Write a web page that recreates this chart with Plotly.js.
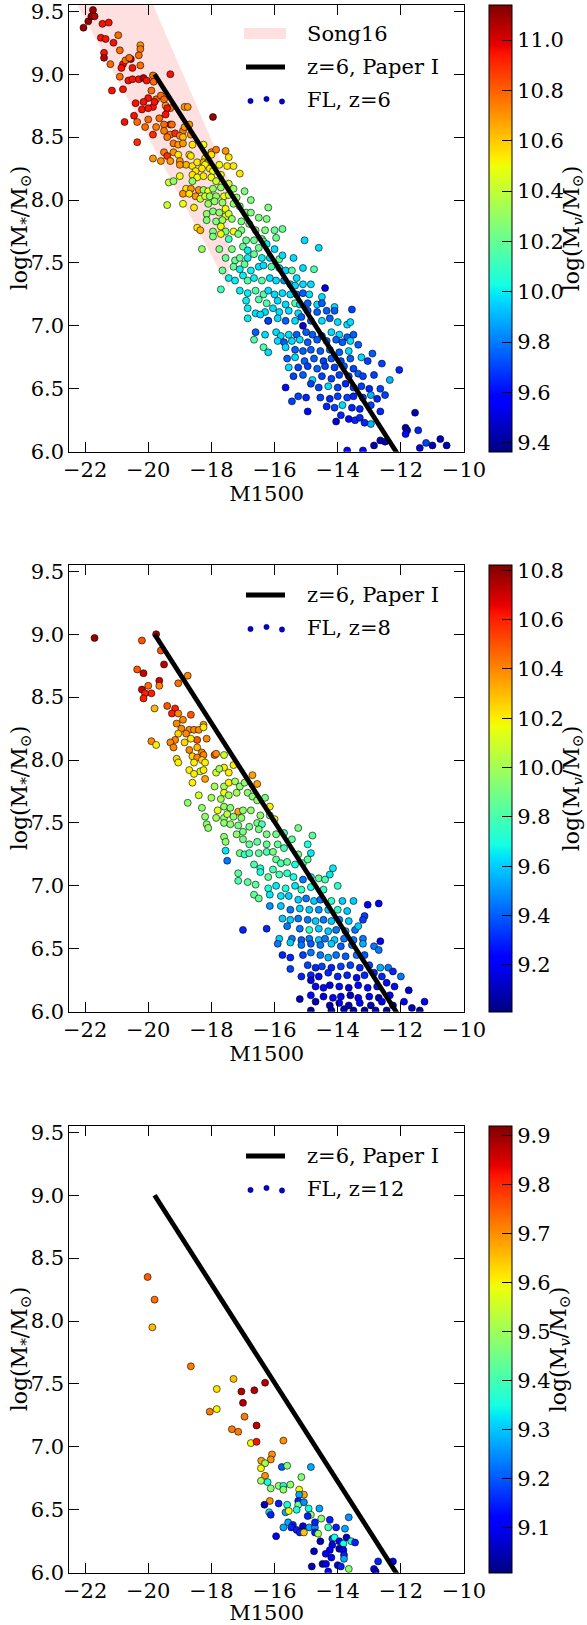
<!DOCTYPE html>
<html><head><meta charset="utf-8">
<script src="https://cdn.plot.ly/plotly-3.0.1.min.js"></script>
<style>html,body{margin:0;padding:0;background:#fff}#chart{width:587px;height:1625px}</style>
</head><body><div id="chart"></div>
<script>
// ---------------- data ----------------
const xTicks = [-22,-20,-18,-16,-14,-12,-10];
const yTicks = [6.0,6.5,7.0,7.5,8.0,8.5,9.0,9.5];
const cb1Ticks = [9.4,9.6,9.8,10.0,10.2,10.4,10.6,10.8,11.0];
const cb2Ticks = [9.2,9.4,9.6,9.8,10.0,10.2,10.4,10.6,10.8];
const cb3Ticks = [9.1,9.2,9.3,9.4,9.5,9.6,9.7,9.8,9.9];
const cRange1 = [9.364, 11.14];
const cRange2 = [9.01, 10.822];
const cRange3 = [9.007, 9.92];

// Paper I relation (z=6)
const paperX = [-19.8, -11.9];
const paperY = [9.0, 5.902];
// Song16 band
const songX = [-23.0, -17.45, -17.45, -23.0];
const songY = [11.38, 8.16, 7.30, 9.91];

// FL, z=6
const p1X = [-22.05,-21.9,-21.8,-21.7,-21.75,-21.5,-21.45,-21.25,-21.35,-21.1,
-21.4,-21.4,-21.2,-20.95,-20.9,-20.8,-20.72,-20.55,-20.6,-20.25,
-20.25,-20.3,-20.25,-20.5,-20.85,-20.9,-20.63,-20.5,-20.3,-20.15,
-20.05,-19.85,-19.83,-19.3,-21.15,-20.8,-19.9,-20.0,-19.75,-19.6,
-19.5,-20.4,-20.15,-19.85,-19.8,-19.45,-19.3,-20.2,-20.0,-19.4,
-20.45,-20.75,-20.35,-20.0,-19.65,-19.45,-19.3,-19.25,-19.5,-18.85,
-18.75,-17.95,-20.1,-19.75,-19.85,-19.5,-19.3,-19.15,-18.9,-18.85,
-18.7,-18.65,-19.0,-19.4,-18.9,-20.35,-19.2,-19.05,-18.9,-18.6,
-18.25,-19.5,-19.4,-19.2,-19.05,-18.7,-18.65,-18.0,-17.85,-17.55,
-18.0,-18.2,-19.85,-19.6,-19.3,-19.0,-18.8,-19.0,-18.6,-18.45,
-18.25,-18.15,-18.2,-18.05,-18.3,-18.5,-17.95,-17.75,-17.5,-17.45,
-17.3,-17.1,-19.0,-18.6,-18.45,-18.25,-18.0,-17.7,-17.85,-19.35,
-19.2,-18.6,-18.8,-18.65,-18.4,-18.25,-18.1,-17.95,-17.7,-17.45,
-17.3,-18.9,-18.7,-18.5,-18.35,-18.2,-18.05,-17.85,-17.6,-17.45,
-17.2,-16.95,-16.75,-19.4,-18.9,-18.55,-18.1,-17.9,-17.65,-17.55,
-17.3,-18.15,-17.95,-17.75,-17.55,-17.45,-17.1,-16.9,-16.75,-16.2,
-18.15,-17.85,-17.65,-17.35,-17.05,-16.8,-16.5,-16.25,-18.45,-18.35,
-17.95,-17.7,-17.55,-17.3,-17.05,-16.6,-16.3,-16.0,-15.75,-17.95,
-17.7,-17.45,-17.15,-16.9,-16.65,-16.4,-15.95,-18.3,-17.75,-17.35,
-17.0,-16.85,-16.5,-16.35,-16.25,-16.0,-15.05,-14.6,-17.55,-17.25,
-17.1,-16.85,-16.65,-16.4,-16.15,-15.85,-15.75,-15.4,-15.1,-14.75,
-17.65,-17.3,-17.1,-16.95,-16.75,-16.5,-16.35,-16.1,-15.85,-15.65,
-15.45,-15.3,-17.7,-17.45,-17.25,-17.0,-16.85,-16.65,-16.4,-16.15,
-15.95,-15.7,-15.5,-15.35,-15.1,-14.85,-14.4,-17.1,-16.85,-16.6,
-16.35,-16.2,-16.0,-15.75,-15.5,-15.3,-15.1,-14.9,-14.5,-16.9,
-16.5,-16.25,-15.9,-15.65,-15.35,-15.2,-14.95,-14.65,-14.5,-14.1,
-16.85,-16.6,-16.3,-16.05,-15.85,-15.55,-15.25,-14.95,-14.65,-14.35,
-14.1,-13.55,-16.85,-16.45,-16.2,-15.9,-15.65,-15.35,-15.15,-14.85,
-14.5,-14.25,-14.0,-13.7,-13.6,-16.2,-15.1,-16.6,-16.3,-15.95,
-15.8,-15.55,-15.3,-15.0,-14.8,-14.5,-14.2,-13.95,-13.7,-13.5,
-16.65,-15.9,-15.7,-15.45,-15.2,-14.95,-14.65,-14.35,-14.05,-13.85,
-13.6,-13.35,-16.35,-16.2,-15.65,-15.35,-15.1,-14.85,-14.55,-14.25,
-13.95,-13.65,-12.9,-15.6,-15.35,-15.05,-14.75,-14.45,-14.2,-13.9,
-13.6,-13.25,-13.05,-15.55,-15.25,-14.95,-14.65,-14.4,-14.1,-13.8,
-13.5,-12.6,-12.05,-15.4,-15.1,-14.8,-14.5,-14.2,-13.95,-13.65,
-13.35,-13.2,-12.85,-12.35,-15.65,-14.85,-14.6,-14.3,-14.0,-13.75,
-13.5,-13.25,-13.0,-12.65,-15.25,-15.0,-14.55,-14.25,-14.0,-13.7,
-13.5,-13.2,-12.95,-12.75,-12.5,-15.45,-14.95,-14.35,-14.1,-13.85,
-13.55,-13.3,-12.95,-12.65,-13.9,-13.65,-13.45,-13.3,-12.95,-14.05,
-13.15,-11.55,-11.85,-11.8,-11.85,-11.45,-12.65,-12.5,-12.85,-11.2,
-11.4,-11.0,-10.75,-10.55,-13.7,-13.2];
const p1Y = [9.37,9.42,9.46,9.46,9.51,9.29,9.40,9.41,9.28,9.25,
9.17,9.13,9.08,9.31,9.19,9.08,9.11,9.12,9.13,9.23,
9.2,9.15,9.07,9.05,9.05,8.98,8.95,8.96,8.96,8.97,
8.95,8.99,8.94,9.0,8.87,8.88,8.87,8.81,8.8,8.83,
8.8,8.77,8.78,8.74,8.78,8.75,8.73,8.72,8.73,8.73,
8.67,8.62,8.62,8.64,8.65,8.68,8.6,8.6,8.6,8.74,
8.74,8.66,8.58,8.58,8.52,8.55,8.52,8.53,8.55,8.58,
8.6,8.52,8.51,8.5,8.5,8.46,8.45,8.44,8.45,8.44,
8.44,8.38,8.35,8.38,8.36,8.36,8.35,8.38,8.4,8.39,
8.36,8.33,8.33,8.31,8.31,8.31,8.28,8.28,8.27,8.3,
8.3,8.29,8.28,8.25,8.25,8.23,8.23,8.28,8.27,8.34,
8.27,8.21,8.19,8.2,8.18,8.19,8.18,8.2,8.15,8.14,
8.15,8.15,8.09,8.09,8.08,8.08,8.07,8.09,8.1,8.13,
8.09,8.05,8.05,8.03,8.01,8.03,8.03,8.03,8.03,8.04,
8.02,8.07,8.0,7.96,7.97,7.94,7.97,7.99,7.98,7.93,
7.97,7.89,7.91,7.9,7.87,7.89,7.95,7.9,7.9,7.94,
7.84,7.83,7.84,7.85,7.83,7.81,7.86,7.85,7.78,7.76,
7.75,7.79,7.75,7.75,7.76,7.76,7.76,7.76,7.77,7.71,
7.73,7.69,7.73,7.68,7.68,7.69,7.7,7.61,7.61,7.61,
7.63,7.6,7.62,7.67,7.65,7.61,7.68,7.62,7.54,7.52,
7.54,7.54,7.57,7.54,7.54,7.53,7.56,7.54,7.46,7.45,
7.44,7.47,7.45,7.49,7.44,7.47,7.48,7.47,7.46,7.44,
7.44,7.38,7.29,7.38,7.36,7.4,7.36,7.38,7.36,7.38,
7.36,7.36,7.33,7.32,7.33,7.33,7.3,7.28,7.26,7.28,
7.25,7.28,7.25,7.26,7.25,7.25,7.26,7.25,7.23,7.2,
7.21,7.18,7.2,7.17,7.18,7.17,7.18,7.17,7.18,7.15,
7.14,7.1,7.11,7.14,7.11,7.12,7.1,7.12,7.11,7.12,
7.12,7.13,7.06,7.09,7.04,7.06,7.04,7.04,7.07,7.04,
7.04,7.06,7.03,7.01,7.03,7.04,7.0,6.95,6.93,6.95,
6.92,6.93,6.93,6.95,6.93,6.92,6.95,6.93,6.91,6.93,
6.89,6.88,6.87,6.88,6.89,6.87,6.89,6.88,6.89,6.87,
6.88,6.85,6.83,6.79,6.83,6.81,6.8,6.81,6.8,6.81,
6.79,6.8,6.78,6.74,6.75,6.72,6.74,6.72,6.74,6.72,
6.74,6.75,6.72,6.67,6.67,6.68,6.66,6.68,6.67,6.68,
6.66,6.7,6.65,6.6,6.61,6.57,6.6,6.58,6.61,6.6,
6.62,6.6,6.61,6.57,6.51,6.54,6.51,6.52,6.51,6.54,
6.51,6.52,6.5,6.5,6.44,6.43,6.43,6.42,6.44,6.43,
6.44,6.43,6.45,6.42,6.45,6.4,6.32,6.36,6.35,6.37,
6.35,6.34,6.37,6.32,6.29,6.26,6.25,6.27,6.22,6.24,
6.23,6.31,6.19,6.17,6.14,6.17,6.09,6.08,6.05,6.07,
6.03,6.05,6.1,6.05,6.01,6.01];
const p1C = [11.1,11.1,11.1,11.05,11.1,10.95,10.95,10.95,10.95,10.95,
10.95,11.05,10.78,10.78,10.78,10.95,10.78,11.05,10.78,10.7,
10.75,10.78,10.78,10.95,10.95,10.78,10.95,10.95,10.95,11.05,
10.95,10.78,10.78,10.95,10.95,10.95,10.78,10.95,10.78,10.78,
10.78,10.95,10.95,10.95,10.95,10.7,10.75,10.95,10.95,10.95,
10.95,10.95,10.78,10.78,10.78,10.95,10.95,10.78,10.78,10.7,
10.7,11.1,10.78,10.75,10.9,10.75,10.75,10.9,10.75,10.7,
10.7,10.7,10.75,10.75,10.62,10.9,10.75,10.7,10.7,10.55,
10.5,10.75,10.9,10.7,10.55,10.55,10.55,10.75,10.75,10.7,
10.55,10.55,10.7,10.7,10.7,10.7,10.65,10.7,10.55,10.55,
10.65,10.55,10.5,10.55,10.55,10.55,10.5,10.5,10.55,10.55,
10.55,10.55,10.5,10.55,10.5,10.55,10.5,10.5,10.42,10.42,
10.3,10.3,10.55,10.7,10.7,10.3,10.5,10.3,10.3,10.42,
10.3,10.7,10.55,10.7,10.42,10.42,10.3,10.3,10.5,10.42,
10.3,10.25,10.25,10.42,10.5,10.55,10.3,10.3,10.3,10.5,
10.3,10.3,10.25,10.3,10.5,10.42,10.25,10.25,10.25,10.25,
10.25,10.25,10.3,10.3,10.25,10.25,10.25,10.25,10.55,10.65,
10.25,10.5,10.25,10.5,10.25,10.25,10.25,10.2,10.2,10.25,
10.5,10.12,10.25,10.2,10.2,10.2,10.2,10.3,10.25,10.25,
10.2,10.0,10.2,10.2,10.0,9.97,9.97,9.97,10.2,10.2,
10.2,10.0,10.2,10.0,9.97,10.2,9.97,9.97,9.97,10.15,
10.2,10.2,10.0,10.2,10.0,9.97,9.97,10.15,9.97,9.97,
10.15,9.97,10.12,10.0,10.0,10.0,10.15,10.0,10.15,9.97,
9.97,9.85,9.97,9.97,9.97,9.97,9.5,10.0,10.0,10.15,
10.15,9.97,9.97,9.97,9.97,9.75,9.75,9.97,9.97,10.0,
10.15,10.15,9.97,9.97,10.15,9.97,9.75,9.97,9.75,9.97,
10.0,9.97,9.97,9.97,9.97,9.97,9.97,9.75,9.75,9.75,
9.75,9.7,10.0,9.97,9.97,9.97,9.75,9.97,9.75,9.75,
9.97,9.75,9.97,9.97,9.97,9.7,9.5,9.75,9.97,9.97,
9.97,9.97,9.75,9.75,9.75,9.75,9.97,9.97,9.75,9.75,
10.15,9.97,9.75,9.97,9.97,9.75,9.75,9.75,9.75,9.75,
9.97,9.75,10.15,9.97,9.97,9.75,9.75,9.75,9.75,9.75,
9.75,9.97,9.75,9.75,9.97,9.75,9.75,9.7,9.75,9.7,
9.75,9.97,9.7,9.97,9.7,9.7,9.75,9.7,9.7,9.75,
9.7,9.7,9.65,9.7,9.75,9.97,9.7,9.7,9.7,9.7,
9.75,9.7,9.7,9.9,9.6,9.7,9.7,9.97,9.7,9.65,
9.7,9.7,9.65,9.7,9.7,9.65,9.7,9.65,9.7,9.7,
9.65,9.7,9.9,9.65,9.7,9.7,9.6,9.65,9.7,9.97,
9.65,9.65,9.7,9.65,9.65,9.6,9.65,9.65,9.9,9.5,
9.65,9.45,9.45,9.45,9.6,9.65,9.45,9.45,9.45,9.7,
9.5,9.45,9.45,9.45,9.6,9.6];

// FL, z=8
const p2X = [-21.7,-20.2,-19.75,-19.6,-19.5,-20.35,-20.15,-19.65,-19.65,-20.0,
-20.2,-19.9,-20.1,-20.15,-19.05,-18.75,-19.8,-19.4,-19.15,-19.25,
-19.05,-18.65,-18.9,-19.1,-18.95,-18.7,-18.55,-19.05,-18.8,-18.4,
-18.25,-18.25,-18.15,-18.45,-18.65,-19.15,-18.85,-19.9,-19.75,-19.3,
-19.2,-18.45,-18.7,-18.3,-17.9,-17.85,-17.6,-19.1,-18.6,-18.45,
-18.25,-18.3,-18.2,-19.05,-18.55,-18.7,-18.35,-18.25,-17.85,-17.6,
-17.75,-17.3,-18.55,-18.6,-18.2,-17.45,-16.7,-16.55,-17.9,-17.6,
-17.45,-17.25,-17.1,-16.95,-17.6,-17.45,-17.2,-18.0,-18.4,-17.7,
-16.85,-16.7,-16.55,-16.3,-16.15,-18.75,-18.3,-17.8,-17.6,-17.4,
-17.15,-17.0,-16.75,-18.2,-17.85,-17.6,-17.5,-17.3,-17.05,-16.45,
-16.15,-16.0,-18.15,-17.6,-17.4,-17.15,-16.8,-16.55,-16.4,-18.1,
-17.6,-17.55,-17.2,-17.0,-16.5,-16.25,-15.95,-15.7,-15.25,-14.8,
-17.0,-16.8,-16.55,-16.25,-15.9,-15.7,-15.45,-14.95,-17.55,-17.1,
-16.95,-16.8,-16.5,-16.25,-16.05,-15.25,-14.85,-17.5,-16.65,-16.45,
-15.95,-15.8,-15.6,-15.35,-15.1,-14.95,-17.15,-16.45,-16.2,-16.05,
-15.85,-15.6,-15.4,-15.1,-14.85,-14.6,-14.4,-14.25,-14.15,-17.15,
-16.85,-16.6,-16.2,-15.95,-15.65,-15.35,-15.15,-14.85,-14.45,-14.0,
-16.65,-16.5,-16.15,-15.8,-15.55,-15.25,-15.0,-14.75,-14.55,-14.2,
-13.85,-13.5,-13.05,-12.7,-16.15,-15.8,-15.5,-15.2,-14.9,-14.6,
-14.3,-14.0,-13.7,-15.75,-15.5,-15.25,-14.95,-14.7,-14.45,-14.2,
-13.95,-13.65,-13.15,-13.2,-17.0,-16.25,-15.6,-15.2,-14.9,-14.6,
-14.3,-14.05,-13.75,-13.45,-13.35,-15.85,-15.45,-15.15,-14.9,-14.6,
-14.4,-14.1,-13.8,-13.5,-13.2,-12.65,-15.9,-15.5,-15.15,-14.85,
-14.55,-14.2,-13.9,-13.55,-13.2,-12.85,-15.75,-15.5,-15.1,-14.85,
-14.55,-14.3,-14.05,-13.75,-13.4,-13.15,-12.7,-15.5,-14.95,-14.7,
-14.5,-14.2,-13.9,-13.6,-13.3,-13.0,-12.65,-12.4,-15.15,-14.85,
-14.6,-14.3,-14.0,-13.7,-13.4,-13.15,-12.85,-12.6,-12.25,-12.0,
-14.85,-14.7,-14.45,-14.25,-13.95,-13.65,-13.35,-13.05,-12.75,-12.45,
-12.2,-11.75,-14.85,-14.45,-14.15,-13.9,-13.6,-13.35,-13.0,-12.7,
-12.35,-15.2,-14.7,-14.25,-13.95,-13.65,-13.3,-12.95,-12.6,-12.25,
-11.9,-11.25,-11.65,-14.85,-14.2,-13.8,-13.5,-13.15,-12.8,-12.45,-11.4];
const p2Y = [8.97,8.95,9.0,8.87,8.76,8.72,8.69,8.63,8.59,8.59,
8.56,8.53,8.53,8.49,8.61,8.67,8.41,8.43,8.41,8.37,
8.37,8.36,8.32,8.29,8.25,8.24,8.24,8.21,8.21,8.24,
8.28,8.26,8.17,8.16,8.17,8.16,8.14,8.15,8.12,8.14,
8.1,8.1,8.08,8.06,8.04,8.05,8.04,8.01,8.03,8.02,
8.04,8.0,7.98,7.98,7.98,7.92,7.91,7.92,7.9,7.94,
7.93,7.96,7.89,7.82,7.85,7.9,7.88,7.81,7.79,7.79,
7.82,7.83,7.79,7.82,7.74,7.72,7.74,7.7,7.72,7.69,
7.74,7.71,7.68,7.7,7.63,7.66,7.62,7.6,7.63,7.62,
7.59,7.6,7.6,7.55,7.54,7.54,7.57,7.55,7.54,7.56,
7.56,7.53,7.49,7.5,7.49,7.48,7.47,7.5,7.49,7.46,
7.39,7.35,7.41,7.43,7.45,7.41,7.41,7.42,7.46,7.4,
7.37,7.33,7.35,7.33,7.33,7.3,7.37,7.33,7.28,7.26,
7.25,7.26,7.26,7.27,7.27,7.25,7.26,7.2,7.17,7.14,
7.21,7.18,7.19,7.17,7.18,7.21,7.1,7.11,7.07,7.13,
7.09,7.1,7.07,7.05,7.07,7.06,7.05,7.09,7.14,7.04,
7.03,7.01,6.98,7.0,6.98,7.0,6.97,6.99,6.97,7.0,
6.93,6.9,6.93,6.92,6.92,6.89,6.9,6.88,6.89,6.88,
6.88,6.88,6.85,6.86,6.84,6.84,6.81,6.82,6.81,6.81,
6.81,6.81,6.8,6.74,6.73,6.74,6.73,6.72,6.73,6.72,
6.73,6.72,6.76,6.73,6.65,6.66,6.68,6.66,6.65,6.66,
6.64,6.65,6.64,6.65,6.68,6.58,6.58,6.57,6.58,6.57,
6.58,6.57,6.58,6.57,6.58,6.56,6.54,6.55,6.53,6.54,
6.53,6.54,6.52,6.53,6.54,6.52,6.45,6.43,6.45,6.47,
6.45,6.43,6.45,6.44,6.45,6.45,6.49,6.34,6.37,6.35,
6.36,6.35,6.36,6.37,6.35,6.37,6.35,6.35,6.28,6.29,
6.28,6.31,6.28,6.29,6.27,6.29,6.31,6.28,6.32,6.28,
6.25,6.2,6.19,6.21,6.2,6.19,6.21,6.19,6.2,6.23,
6.2,6.17,6.13,6.12,6.11,6.12,6.13,6.11,6.12,6.11,
6.13,6.1,6.08,6.05,6.07,6.05,6.07,6.05,6.08,6.05,
6.08,6.08,6.03,6.01,6.01,6.02,6.01,6.01,6.01,6.01,6.01];
const p2C = [10.78,10.5,10.75,10.5,10.72,10.5,10.7,10.7,10.4,10.45,
10.7,10.6,10.6,10.6,10.45,10.4,10.3,10.5,10.6,10.6,
10.4,10.5,10.4,10.4,10.4,10.4,10.4,10.25,10.4,10.4,
10.35,10.2,10.4,10.5,10.2,10.4,10.25,10.4,10.2,10.4,
10.4,10.3,10.4,10.4,10.5,10.4,10.1,10.25,10.25,10.4,
10.4,10.25,10.2,10.2,10.2,10.2,10.1,10.2,10.1,10.2,
10.0,10.2,10.2,10.2,10.35,10.2,10.35,10.35,10.0,10.0,
10.2,10.0,9.95,9.95,10.15,10.0,10.0,10.0,10.1,10.0,
9.95,9.95,9.95,9.9,10.2,9.95,9.95,10.15,9.95,9.95,
10.35,9.95,9.95,9.95,10.0,9.95,10.05,9.95,9.95,9.95,
9.9,10.2,9.95,9.95,9.95,9.9,9.9,9.9,9.8,9.95,
9.95,9.95,9.95,9.9,9.9,9.9,9.9,9.8,9.9,9.85,
9.9,9.85,9.85,9.85,9.85,9.8,9.85,9.7,9.65,9.9,
9.75,9.8,9.85,9.8,9.9,9.9,9.65,9.45,9.8,9.75,
9.85,9.8,9.85,9.7,9.8,9.85,9.85,9.7,9.85,9.8,
9.8,9.75,9.7,9.45,9.7,9.85,9.8,9.65,9.65,9.8,
9.85,9.85,9.7,9.65,9.7,9.65,9.75,9.7,9.75,9.75,
9.85,9.85,9.65,9.65,9.6,9.6,9.45,9.6,9.45,9.75,
9.6,9.6,9.2,9.2,9.5,9.6,9.45,9.6,9.6,9.5,
9.6,9.75,9.6,9.6,9.6,9.45,9.45,9.6,9.45,9.6,
9.45,9.6,9.35,9.35,9.3,9.3,9.45,9.45,9.75,9.6,
9.6,9.45,9.55,9.45,9.6,9.6,9.45,9.4,9.45,9.6,
9.45,9.6,9.45,9.45,9.45,9.2,9.45,9.6,9.45,9.4,
9.45,9.6,9.4,9.45,9.55,9.45,9.3,9.3,9.35,9.45,
9.45,9.55,9.45,9.4,9.45,9.4,9.45,9.35,9.35,9.3,
9.35,9.3,9.35,9.35,9.3,9.35,9.55,9.45,9.3,9.3,
9.25,9.3,9.3,9.3,9.25,9.3,9.3,9.3,9.3,9.45,
9.15,9.25,9.25,9.15,9.25,9.15,9.25,9.25,9.25,9.25,
9.25,9.15,9.25,9.15,9.2,9.2,9.1,9.2,9.2,9.1,
9.2,9.1,9.1,9.1,9.2,9.1,9.2,9.1,9.2,9.1,
9.2,9.2,9.1,9.05,9.05,9.1,9.05,9.05,9.1,9.05,9.05];

// FL, z=12
const p3X = [-20.02,-19.8,-19.87,-18.65,-17.3,-17.83,-17.05,-16.64,-16.3,-17.0,
-18.05,-17.83,-16.95,-16.57,-17.35,-17.15,-16.75,-16.57,-15.72,-16.08,
-16.12,-16.42,-16.3,-16.43,-15.77,-15.6,-14.85,-16.3,-16.43,-16.22,
-16.12,-15.87,-15.72,-15.72,-15.5,-15.15,-15.22,-15.07,-15.22,-16.15,
-16.32,-16.17,-16.12,-15.87,-15.6,-15.25,-15.25,-15.07,-15.65,-15.55,
-15.3,-14.92,-14.58,-14.85,-14.95,-15.57,-15.42,-15.1,-15.72,-15.47,
-15.3,-15.2,-15.07,-14.9,-14.72,-14.72,-14.52,-14.25,-14.3,-14.05,
-13.77,-13.65,-15.95,-14.72,-14.62,-14.55,-14.17,-14.1,-13.95,-13.72,
-13.57,-13.45,-13.82,-14.17,-13.95,-14.25,-14.75,-14.38,-13.82,-13.8,
-14.2,-13.8,-14.48,-14.37,-14.82,-14.0,-13.9,-13.65,-14.3,-12.85,
-12.72,-12.25,-12.8];
const p3Y = [8.35,8.17,7.95,7.64,7.54,7.46,7.44,7.45,7.51,7.35,
7.28,7.3,7.24,7.17,7.14,7.12,7.03,7.04,7.05,6.94,
6.9,6.89,6.87,6.83,6.84,6.85,6.84,6.77,6.73,6.72,
6.67,6.69,6.69,6.66,6.7,6.76,6.66,6.62,6.62,6.57,
6.54,6.48,6.46,6.55,6.54,6.57,6.54,6.56,6.48,6.49,
6.5,6.51,6.51,6.46,6.45,6.4,6.38,6.37,6.36,6.36,
6.34,6.32,6.32,6.36,6.36,6.4,6.43,6.42,6.36,6.36,
6.35,6.44,6.29,6.32,6.31,6.25,6.27,6.28,6.25,6.28,
6.25,6.24,6.23,6.22,6.19,6.18,6.17,6.15,6.18,6.14,
6.12,6.11,6.07,6.07,6.05,6.06,6.05,6.03,6.01,6.03,
6.09,6.09,6.01];
const p3C = [9.75,9.73,9.66,9.72,9.65,9.62,9.88,9.88,9.88,9.88,
9.72,9.6,9.72,9.87,9.72,9.72,9.6,9.82,9.7,9.7,
9.7,9.68,9.5,9.6,9.2,9.47,9.27,9.7,9.5,9.35,
9.48,9.48,9.35,9.48,9.48,9.47,9.6,9.68,9.27,9.7,
9.05,9.33,9.15,9.15,9.35,9.15,9.45,9.25,9.27,9.6,
9.35,9.35,9.27,9.48,9.15,9.27,9.15,9.07,9.27,9.15,
9.15,9.15,9.65,9.27,9.25,9.15,9.48,9.15,9.4,9.15,
9.27,9.25,9.12,9.15,9.5,9.05,9.18,9.35,9.12,9.06,
9.35,9.15,9.35,9.12,9.05,9.12,9.06,9.12,9.12,9.15,
9.12,9.27,9.05,9.12,9.05,9.12,9.15,9.48,9.12,9.12,
9.15,9.12,9.05];

// ---------------- styling ----------------
const W = 587, H = 1625;
const FONT = 'DejaVu Serif';
const FS = 21;
const jet = [
 [0,'rgb(0,0,128)'],[0.11,'rgb(0,0,255)'],[0.125,'rgb(0,0,255)'],
 [0.34,'rgb(0,219,255)'],[0.35,'rgb(0,230,247)'],[0.375,'rgb(21,255,226)'],
 [0.64,'rgb(239,255,8)'],[0.65,'rgb(247,245,0)'],[0.66,'rgb(255,236,0)'],
 [0.89,'rgb(255,19,0)'],[0.91,'rgb(232,0,0)'],[1,'rgb(128,0,0)']];

const PX0 = 69.3, PX1 = 464, PH = 446.7;
const tops = [5, 565, 1126];
const xdom = [PX0/W, PX1/W];
function ydom(t){ return [1-(t+PH)/H, 1-t/H]; }
const px = v => v/W, py = v => 1 - v/H;

const fontObj = {family: FONT, size: FS, color: '#000'};
const titleFont = {family: FONT, size: 22, color: '#000'};

function xax(anchor){
  return {domain: xdom, range: [-22.5,-10], anchor: anchor,
    tickmode:'array', tickvals: xTicks, ticks:'inside', ticklen:10, tickwidth:1, tickcolor:'#000',
    mirror:'allticks', showline:true, linecolor:'#000', linewidth:1,
    showgrid:false, zeroline:false, tickfont: fontObj, ticklabelstandoff: -1,
    ticklabeloverflow:'allow',
    title:{text:'M1500', font: fontObj, standoff: 0}};
}
function yax(anchor, t){
  return {domain: ydom(t), range: [6.0, 9.55], anchor: anchor,
    tickmode:'array', tickvals: yTicks, tickformat:'.1f', ticks:'inside', ticklen:10, tickwidth:1, tickcolor:'#000',
    mirror:'allticks', showline:true, linecolor:'#000', linewidth:1,
    showgrid:false, zeroline:false, tickfont: fontObj,
    ticklabeloverflow:'allow'};
}
function cbar(t, ticks){
  return {x: 489/W, xanchor:'left', xpad:0, ypad:0, y: 1-(t+PH/2)/H, yanchor:'middle',
    len: PH/H, lenmode:'fraction', thickness: 23, thicknessmode:'pixels',
    outlinewidth:1, outlinecolor:'#000', ticks:'inside', ticklen:10, tickwidth:1, tickcolor:'#000',
    tickmode:'array', tickvals: ticks, tickformat:'.1f', tickfont: fontObj};
}
function pts(xs, ys, cs, rng, ticks, t, xa, ya, name){
  return {type:'scatter', mode:'markers', x: xs, y: ys, xaxis: xa, yaxis: ya, name: name,
    showlegend:false, cliponaxis:true,
    marker:{size:7, color: cs, colorscale: jet, cmin: rng[0], cmax: rng[1],
      line:{color:'#000', width:0.6}, colorbar: cbar(t, ticks)}};
}
function paperLine(xa, ya){
  return {type:'scatter', mode:'lines', x: paperX, y: paperY, xaxis: xa, yaxis: ya,
    name:'z=6, Paper I', showlegend:false, line:{color:'#000', width:4.8}, hoverinfo:'skip'};
}

const traces = [
  {type:'scatter', mode:'lines', x: songX, y: songY, xaxis:'x', yaxis:'y', fill:'toself',
   fillcolor:'rgb(255,224,224)', line:{width:0, color:'rgba(0,0,0,0)'}, name:'Song16', showlegend:false, hoverinfo:'skip'},
  pts(p1X, p1Y, p1C, cRange1, cb1Ticks, tops[0], 'x', 'y', 'FL, z=6'),
  paperLine('x','y'),
  pts(p2X, p2Y, p2C, cRange2, cb2Ticks, tops[1], 'x2', 'y2', 'FL, z=8'),
  paperLine('x2','y2'),
  pts(p3X, p3Y, p3C, cRange3, cb3Ticks, tops[2], 'x3', 'y3', 'FL, z=12'),
  paperLine('x3','y3')
];

// ---------- legends (drawn manually, matplotlib style) ----------
const shapes = [], annotations = [];
function legText(txt, yc){
  annotations.push({xref:'paper', yref:'paper', x: px(305), y: py(yc), xanchor:'left', yanchor:'middle',
    text: txt, showarrow:false, font: fontObj});
}
function legLine(yc){
  shapes.push({type:'line', xref:'paper', yref:'paper', x0: px(246), x1: px(285), y0: py(yc), y1: py(yc),
    line:{color:'#000', width:4.8}});
}
function legDots(yc){
  const dx = [250.5, 266.5, 282], dy = [1, -1, 1.5];
  for (let i=0;i<3;i++){
    const r = 2.7;
    shapes.push({type:'circle', xref:'paper', yref:'paper',
      x0: px(dx[i]-r), x1: px(dx[i]+r), y0: py(yc+dy[i]-r), y1: py(yc+dy[i]+r),
      fillcolor:'rgb(0,0,215)', line:{color:'#000', width:0.4}});
  }
}
// panel 1
shapes.push({type:'rect', xref:'paper', yref:'paper', x0: px(244), x1: px(286), y0: py(tops[0]+23), y1: py(tops[0]+34),
  fillcolor:'rgb(255,224,224)', line:{width:0}});
legText('Song16', tops[0]+29);
legLine(tops[0]+62); legText('z=6, Paper I', tops[0]+62);
legDots(tops[0]+95); legText('FL, z=6', tops[0]+95);
// panel 2
legLine(tops[1]+30); legText('z=6, Paper I', tops[1]+30);
legDots(tops[1]+63); legText('FL, z=8', tops[1]+63);
// panel 3
legLine(tops[2]+30); legText('z=6, Paper I', tops[2]+30);
legDots(tops[2]+63); legText('FL, z=12', tops[2]+63);

// y titles and colorbar titles
const cbTitleX = [573, 573, 560];
for (let i=0;i<3;i++){
  annotations.push({xref:'paper', yref:'paper', x: px(21), y: py(tops[i]+PH/2),
    xanchor:'center', yanchor:'middle', textangle:-90, showarrow:false,
    text:'log(M<sub>*</sub>/M<sub>⊙</sub>)', font: titleFont});
  annotations.push({xref:'paper', yref:'paper', x: px(cbTitleX[i]), y: py(tops[i]+PH/2),
    xanchor:'center', yanchor:'middle', textangle:-90, showarrow:false,
    text:'log(M<sub><i>v</i></sub>/M<sub>⊙</sub>)', font: titleFont});
}

const layout = {
  width: W, height: H, margin:{l:0, r:0, t:0, b:0}, autosize:false,
  paper_bgcolor:'#fff', plot_bgcolor:'#fff', showlegend:false,
  font: fontObj,
  xaxis: xax('y'), yaxis: yax('x', tops[0]),
  xaxis2: xax('y2'), yaxis2: yax('x2', tops[1]),
  xaxis3: xax('y3'), yaxis3: yax('x3', tops[2]),
  shapes: shapes, annotations: annotations
};
Plotly.newPlot('chart', traces, layout, {staticPlot:true, displayModeBar:false});
</script>
</body></html>
